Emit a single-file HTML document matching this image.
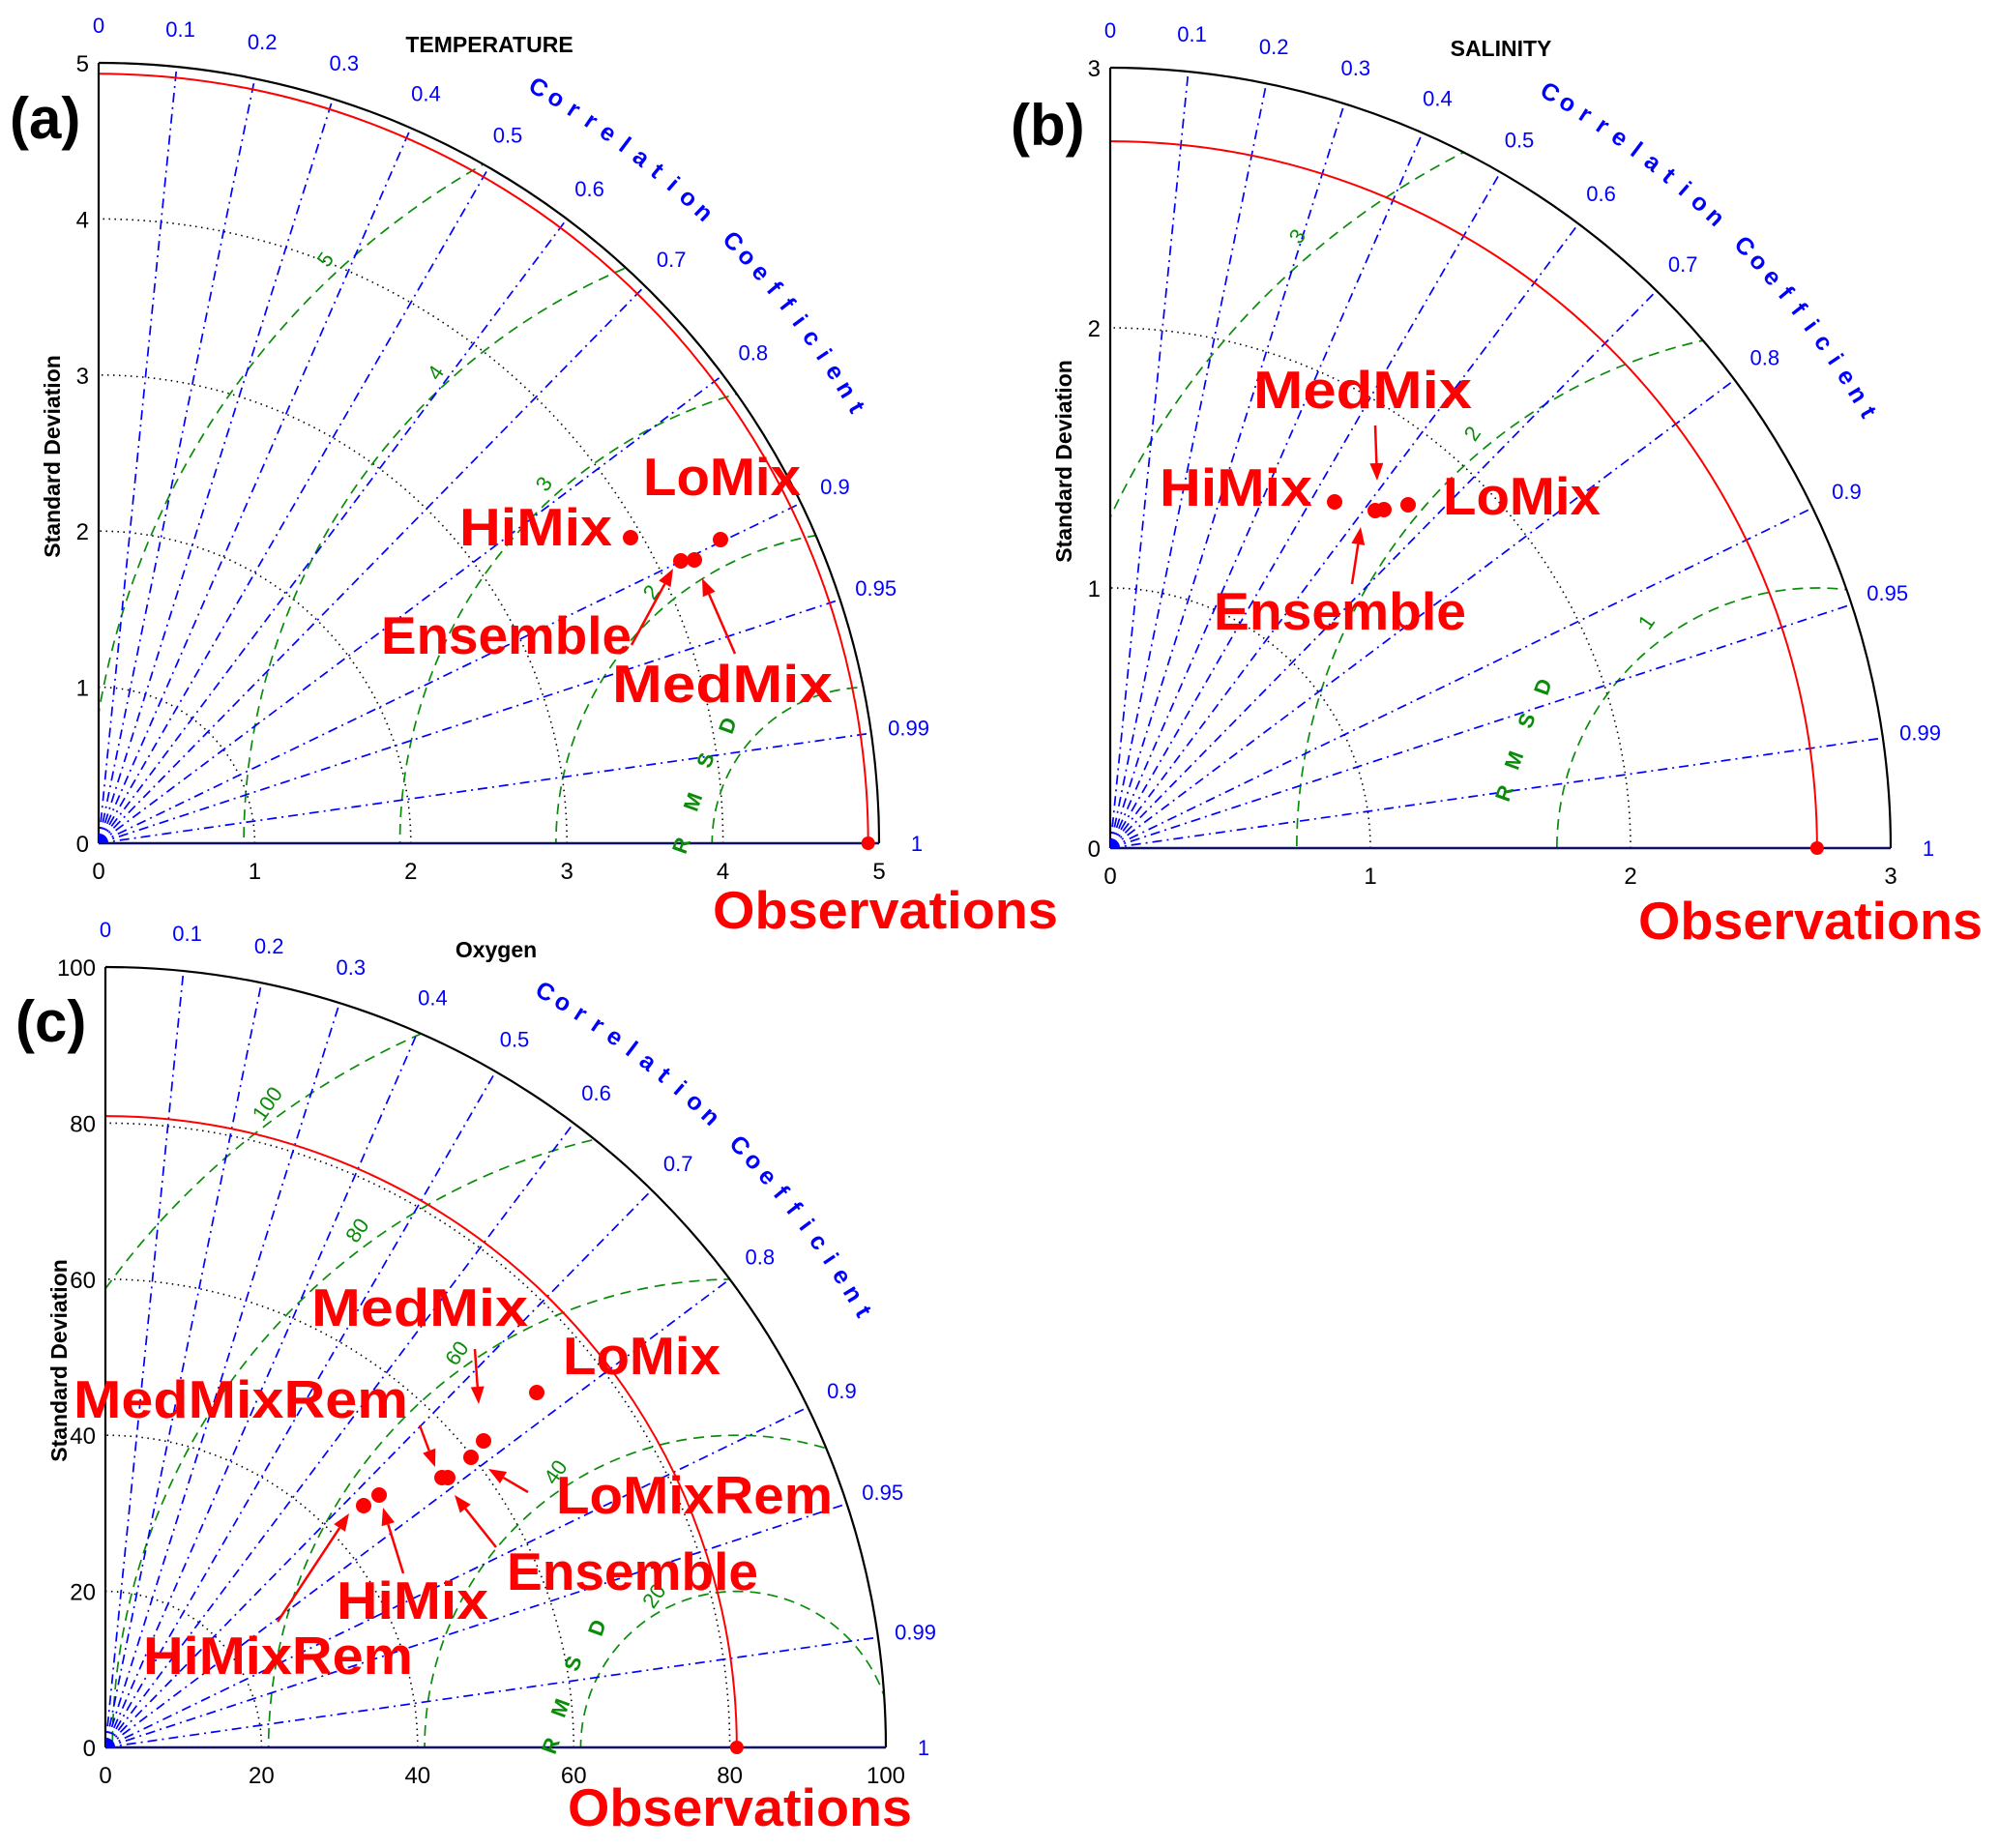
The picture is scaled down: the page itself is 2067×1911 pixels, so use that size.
<!DOCTYPE html>
<html><head><meta charset="utf-8"><style>
html,body{margin:0;padding:0;background:#fff;overflow:hidden;width:2067px;height:1911px;}
svg{display:block;}
text{font-family:"Liberation Sans",Arial,sans-serif;}
</style></head><body>
<svg id="s" xmlns="http://www.w3.org/2000/svg" width="2067" height="1911" viewBox="0 0 2067 1911">
<rect width="2067" height="1911" fill="#fff"/>
<g id="g"></g>
<text x="10" y="143" font-size="60" font-weight="bold" fill="#000">(a)</text>
<text x="1045" y="150" font-size="60" font-weight="bold" fill="#000">(b)</text>
<text x="16" y="1077" font-size="60" font-weight="bold" fill="#000">(c)</text>
<text x="506" y="54" font-size="23" font-weight="bold" text-anchor="middle">TEMPERATURE</text>
<text x="1552" y="58" font-size="23" font-weight="bold" text-anchor="middle">SALINITY</text>
<text x="513" y="990" font-size="23" font-weight="bold" text-anchor="middle">Oxygen</text>
<g fill="#f00" font-weight="bold" font-size="55" font-family="Liberation Sans, Arial, sans-serif">
<text x="665" y="512" textLength="163" lengthAdjust="spacingAndGlyphs">LoMix</text>
<text x="475" y="564" textLength="158" lengthAdjust="spacingAndGlyphs">HiMix</text>
<text x="394" y="676" textLength="259" lengthAdjust="spacingAndGlyphs">Ensemble</text>
<text x="633" y="726" textLength="228" lengthAdjust="spacingAndGlyphs">MedMix</text>
<text x="737" y="960" textLength="357" lengthAdjust="spacingAndGlyphs">Observations</text>

<text x="1296" y="422" textLength="226" lengthAdjust="spacingAndGlyphs">MedMix</text>
<text x="1199" y="523" textLength="158" lengthAdjust="spacingAndGlyphs">HiMix</text>
<text x="1492" y="532" textLength="163" lengthAdjust="spacingAndGlyphs">LoMix</text>
<text x="1255" y="651" textLength="261" lengthAdjust="spacingAndGlyphs">Ensemble</text>
<text x="1694" y="971" textLength="356" lengthAdjust="spacingAndGlyphs">Observations</text>

<text x="322" y="1371" textLength="224" lengthAdjust="spacingAndGlyphs">MedMix</text>
<text x="582" y="1421" textLength="163" lengthAdjust="spacingAndGlyphs">LoMix</text>
<text x="76" y="1466" textLength="346" lengthAdjust="spacingAndGlyphs">MedMixRem</text>
<text x="575" y="1565" textLength="286" lengthAdjust="spacingAndGlyphs">LoMixRem</text>
<text x="524" y="1644" textLength="260" lengthAdjust="spacingAndGlyphs">Ensemble</text>
<text x="348" y="1674" textLength="157" lengthAdjust="spacingAndGlyphs">HiMix</text>
<text x="148" y="1731" textLength="279" lengthAdjust="spacingAndGlyphs">HiMixRem</text>
<text x="587" y="1888" textLength="356" lengthAdjust="spacingAndGlyphs">Observations</text>
</g>
</svg>
<script>
(function(){
var NS="http://www.w3.org/2000/svg";
var g=document.getElementById("g");
function el(t,a,txt){var e=document.createElementNS(NS,t);for(var k in a)e.setAttribute(k,a[k]);if(txt!==undefined)e.textContent=txt;g.appendChild(e);return e;}
var R=807;
var BLUE="#0000ff", GREEN="#0a8c0a";
function panel(ox,oy,M,obs,arcs,rms,ticks,rmsLab,rmsdLetters,id){
  var s=R/M;
  var cp=document.createElementNS(NS,"clipPath");cp.setAttribute("id","c"+id);
  var p=document.createElementNS(NS,"path");
  p.setAttribute("d","M"+ox+","+oy+" L"+(ox+R)+","+oy+" A"+R+","+R+" 0 0 0 "+ox+","+(oy-R)+" Z");
  cp.appendChild(p);g.appendChild(cp);
  arcs.forEach(function(v){var r=v*s;
    el("path",{d:"M"+(ox+r)+","+oy+" A"+r+","+r+" 0 0 0 "+ox+","+(oy-r),fill:"none",stroke:"#000","stroke-width":1.6,"stroke-dasharray":"1.5,4.5"});});
  var ro=obs*s;
  var gg=el("g",{"clip-path":"url(#c"+id+")"});
  rms.forEach(function(v){var r=v*s;
    var c=document.createElementNS(NS,"circle");
    c.setAttribute("cx",ox+ro);c.setAttribute("cy",oy);c.setAttribute("r",r);
    c.setAttribute("fill","none");c.setAttribute("stroke",GREEN);c.setAttribute("stroke-width",1.7);c.setAttribute("stroke-dasharray","11,7");
    gg.appendChild(c);});
  var cs=[0.1,0.2,0.3,0.4,0.5,0.6,0.7,0.8,0.9,0.95,0.99];
  cs.forEach(function(c){var a=Math.acos(c);
    el("line",{x1:ox,y1:oy,x2:ox+R*Math.cos(a),y2:oy-R*Math.sin(a),stroke:BLUE,"stroke-width":1.7,"stroke-dasharray":"10,5,2,5"});});
  var labs=[["0",0],["0.1",0.1],["0.2",0.2],["0.3",0.3],["0.4",0.4],["0.5",0.5],["0.6",0.6],["0.7",0.7],["0.8",0.8],["0.9",0.9],["0.95",0.95],["0.99",0.99],["1",1]];
  labs.forEach(function(l){var a=Math.acos(l[1]);
    el("text",{x:ox+846*Math.cos(a),y:oy-846*Math.sin(a)+8,"font-size":22,fill:BLUE,"text-anchor":"middle"},l[0]);});
  el("path",{d:"M"+(ox+ro)+","+oy+" A"+ro+","+ro+" 0 0 0 "+ox+","+(oy-ro),fill:"none",stroke:"#f00","stroke-width":2});
  el("path",{d:"M"+(ox+R)+","+oy+" A"+R+","+R+" 0 0 0 "+ox+","+(oy-R),fill:"none",stroke:"#000","stroke-width":2.2});
  el("line",{x1:ox,y1:oy,x2:ox,y2:oy-R,stroke:"#000","stroke-width":2.2});
  el("line",{x1:ox,y1:oy,x2:ox+R,y2:oy,stroke:"#101060","stroke-width":2.4});
  el("path",{d:"M"+ox+","+oy+" L"+(ox+10)+","+oy+" A10,10 0 0 0 "+ox+","+(oy-10)+" Z",fill:BLUE});
  ticks.forEach(function(v){
    el("text",{x:ox-10,y:oy-v*s+9,"font-size":24,"text-anchor":"end",fill:"#000"},String(v));
    el("text",{x:ox+v*s,y:oy+37,"font-size":24,"text-anchor":"middle",fill:"#000"},String(v));});
  el("text",{x:0,y:0,"font-size":23,"font-weight":"bold","text-anchor":"middle",transform:"translate("+(ox-40)+","+(oy-400)+") rotate(-90)"},"Standard Deviation");
  var str="Correlation Coefficient";var a0=59.8,a1=29.9;
  for(var i=0;i<str.length;i++){var ch=str[i];if(ch==" ")continue;
    var th=(a0+(a1-a0)*i/(str.length-1))*Math.PI/180;
    var x=ox+905*Math.cos(th),y=oy-905*Math.sin(th);
    el("text",{x:0,y:0,"font-size":25,"font-weight":"bold",fill:BLUE,"text-anchor":"middle",transform:"translate("+x+","+y+") rotate("+(90-th*180/Math.PI)+") translate(0,9)"},ch);}
  rmsLab.forEach(function(l){
    el("text",{x:0,y:0,"font-size":22,fill:GREEN,"text-anchor":"middle",transform:"translate("+l[1]+","+l[2]+") rotate(-55) translate(0,8)"},l[0]);});
  rmsdLetters.forEach(function(l){
    el("text",{x:0,y:0,"font-size":22,"font-weight":"bold",fill:GREEN,"text-anchor":"middle",transform:"translate("+l[1]+","+l[2]+") rotate(-70) translate(0,8)"},l[0]);});
  el("circle",{cx:ox+ro,cy:oy,r:7,fill:"#f00"});
}
panel(102,872,5,4.93,[1,2,3,4],[1,2,3,4,5],[0,1,2,3,4,5],
 [["5",336,268],["4",450,385],["3",562,500],["2",673,612]],
 [["R",704,874],["M",716,829],["S",729,786],["D",752,750]],"a");
panel(1148,877,3,2.717,[1,2],[1,2,3],[0,1,2,3],
 [["3",1341,244],["2",1522,448],["1",1702,643]],
 [["R",1555,820],["M",1565,786],["S",1578,745],["D",1595,710]],"b");
panel(109,1807,100,80.9,[20,40,60,80],[20,40,60,80,100],[0,20,40,60,80,100],
 [["100",276,1141],["80",369,1272],["60",472,1399],["40",574,1522],["20",676,1650]],
 [["R",569,1805],["M",579,1766],["S",592,1720],["D",617,1683]],"c");
[[652,556],[704,580],[718,579],[745,558],
 [1380,519],[1422,528],[1431,527],[1456,522],
 [555,1440],[500,1490],[487,1507],[457,1528],[463,1528],[392,1546],[376,1557]].forEach(function(d){
  el("circle",{cx:d[0],cy:d[1],r:8,fill:"#f00"});});
function arrow(x1,y1,x2,y2){var dx=x2-x1,dy=y2-y1,L=Math.sqrt(dx*dx+dy*dy),ux=dx/L,uy=dy/L,h=18,w=7;
  var bx=x2-ux*h,by=y2-uy*h;
  el("line",{x1:x1,y1:y1,x2:bx,y2:by,stroke:"#f00","stroke-width":2.5});
  el("polygon",{points:x2+","+y2+" "+(bx-uy*w)+","+(by+ux*w)+" "+(bx+uy*w)+","+(by-ux*w),fill:"#f00"});}
arrow(653,667,696,588);arrow(760,676,726,598);
arrow(1422,440,1424,497);arrow(1398,604,1407,545);
arrow(491,1395,495,1452);arrow(434,1474,450,1517);arrow(546,1543,505,1519);
arrow(513,1600,470,1546);arrow(417,1627,396,1559);arrow(287,1677,361,1565);
})();
</script>
</body></html>
